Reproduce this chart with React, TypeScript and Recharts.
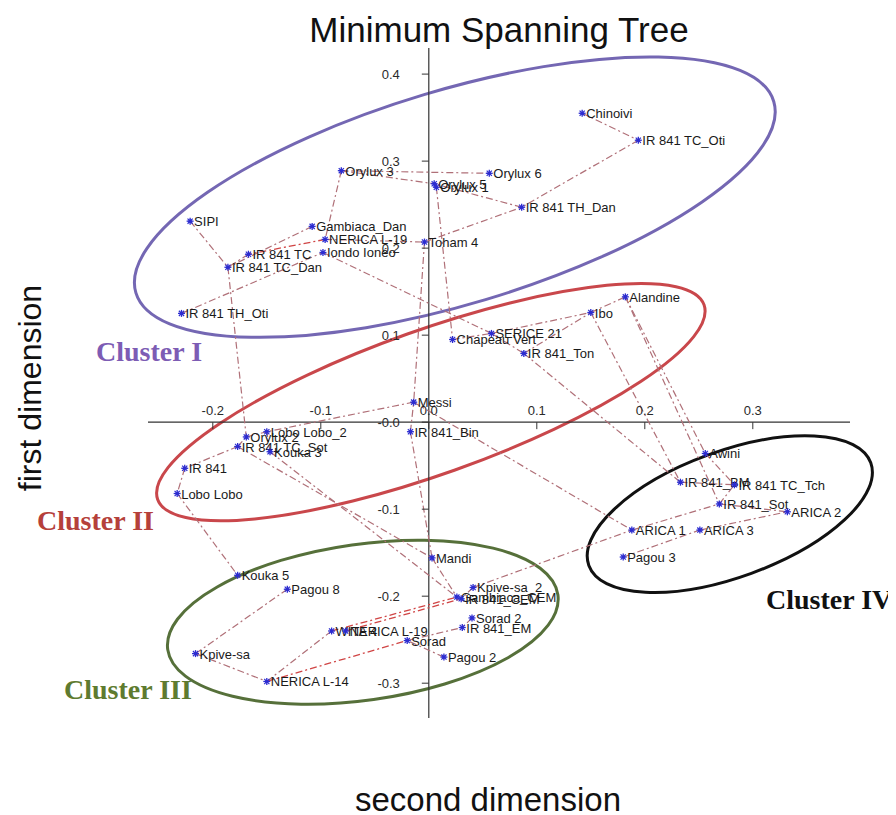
import React from 'react';
import { ScatterChart, Scatter, XAxis, YAxis, ReferenceLine, ReferenceArea, ReferenceDot } from 'recharts';

// ---- data ----
const pointIds = [
  'Chinoivi', 'IR 841 TC_Oti', 'Orylux 6', 'Orylux 5', 'Orylux 1', 'IR 841 TH_Dan', 'Orylux 3', 'SIPI',
  'Gambiaca_Dan', 'NERICA L-19', 'Toham 4', 'IR 841 TC', 'Iondo Ionéo', 'IR 841 TC_Dan', 'IR 841 TH_Oti',
  'Alandine', 'Ibo', 'SERICE 21', 'Chapeau Vert', 'IR 841_Ton', 'Messi', 'IR 841_Bin', 'Orylux 2',
  'Lobo Lobo_2', 'IR 841 TC_Sot', 'Kouka 3', 'IR 841', 'Lobo Lobo', 'Awini', 'IR 841_BM', 'IR 841 TC_Tch',
  'IR 841_Sot', 'ARICA 2', 'ARICA 1', 'ARICA 3', 'Pagou 3', 'Mandi', 'Kouka 5', 'Pagou 8', 'Kpive-sa_2',
  'Gambiaca_CEM', 'IR 841_CEM', 'Sorad 2', 'IR 841_EM', 'WITA 4', 'NERICA L-19 b', 'Sorad', 'Pagou 2',
  'Kpive-sa', 'NERICA L-14',
];
const pointLabels = [
  'Chinoivi', 'IR 841 TC_Oti', 'Orylux 6', 'Orylux 5', 'Orylux 1', 'IR 841 TH_Dan', 'Orylux 3', 'SIPI',
  'Gambiaca_Dan', 'NERICA L-19', 'Toham 4', 'IR 841 TC', 'Iondo Ionéo', 'IR 841 TC_Dan', 'IR 841 TH_Oti',
  'Alandine', 'Ibo', 'SERICE 21', 'Chapeau Vert', 'IR 841_Ton', 'Messi', 'IR 841_Bin', 'Orylux 2',
  'Lobo Lobo_2', 'IR 841 TC_Sot', 'Kouka 3', 'IR 841', 'Lobo Lobo', 'Awini', 'IR 841_BM', 'IR 841 TC_Tch',
  'IR 841_Sot', 'ARICA 2', 'ARICA 1', 'ARICA 3', 'Pagou 3', 'Mandi', 'Kouka 5', 'Pagou 8', 'Kpive-sa_2',
  'Gambiaca_CEM', 'IR 841_CEM', 'Sorad 2', 'IR 841_EM', 'WITA 4', 'NERICA L-19', 'Sorad', 'Pagou 2',
  'Kpive-sa', 'NERICA L-14',
];
// second dimension (horizontal)
const secondDim = [
  0.142, 0.194, 0.056, 0.005, 0.007, 0.086, -0.081, -0.221,
  -0.108, -0.096, -0.004, -0.167, -0.098, -0.186, -0.229,
  0.182, 0.150, 0.058, 0.022, 0.088, -0.014, -0.017, -0.169,
  -0.150, -0.177, -0.147, -0.226, -0.233, 0.256, 0.233, 0.283,
  0.269, 0.332, 0.188, 0.251, 0.180, 0.003, -0.177, -0.131, 0.041,
  0.026, 0.030, 0.040, 0.031, -0.090, -0.077, -0.020, 0.014,
  -0.216, -0.150,
];
// first dimension (vertical)
const firstDim = [
  0.355, 0.324, 0.286, 0.274, 0.270, 0.247, 0.289, 0.231,
  0.225, 0.210, 0.207, 0.193, 0.195, 0.178, 0.125,
  0.144, 0.126, 0.102, 0.095, 0.079, 0.023, -0.011, -0.017,
  -0.011, -0.028, -0.034, -0.053, -0.082, -0.036, -0.069, -0.072,
  -0.094, -0.103, -0.124, -0.124, -0.155, -0.156, -0.176, -0.192, -0.190,
  -0.201, -0.203, -0.225, -0.236, -0.240, -0.240, -0.251, -0.270,
  -0.266, -0.298,
];

const treeEdges: [string, string][] = [
  ['Chinoivi', 'IR 841 TC_Oti'], ['IR 841 TC_Oti', 'IR 841 TH_Dan'], ['IR 841 TH_Dan', 'Orylux 5'],
  ['Toham 4', 'IR 841 TH_Dan'], ['Orylux 3', 'Orylux 6'], ['Orylux 3', 'Orylux 5'], ['Orylux 5', 'Orylux 1'],
  ['Orylux 3', 'NERICA L-19'], ['Gambiaca_Dan', 'IR 841 TC_Dan'], ['NERICA L-19', 'Toham 4'],
  ['SIPI', 'IR 841 TC_Dan'], ['IR 841 TH_Oti', 'Iondo Ionéo'], ['Iondo Ionéo', 'SERICE 21'],
  ['Orylux 1', 'Chapeau Vert'], ['Toham 4', 'Messi'], ['Chapeau Vert', 'SERICE 21'], ['SERICE 21', 'Ibo'],
  ['IR 841_Ton', 'Ibo'], ['Ibo', 'Alandine'], ['SERICE 21', 'IR 841_Ton'], ['Alandine', 'IR 841_Sot'],
  ['Ibo', 'IR 841_BM'], ['IR 841_Ton', 'IR 841_BM'], ['Alandine', 'Awini'], ['Messi', 'Lobo Lobo_2'],
  ['Messi', 'ARICA 1'], ['IR 841_Bin', 'Mandi'], ['IR 841_Bin', 'Messi'], ['Orylux 2', 'Lobo Lobo_2'],
  ['IR 841 TC_Sot', 'Orylux 2'], ['Kouka 3', 'Lobo Lobo_2'], ['IR 841 TC_Sot', 'IR 841'],
  ['IR 841', 'Lobo Lobo'], ['Lobo Lobo', 'Kouka 5'], ['Kouka 3', 'Gambiaca_CEM'], ['IR 841 TC_Sot', 'Mandi'],
  ['IR 841 TC_Dan', 'Orylux 2'], ['Pagou 8', 'Kpive-sa'], ['Kpive-sa', 'NERICA L-14'],
  ['NERICA L-14', 'WITA 4'], ['Sorad', 'IR 841_EM'], ['Mandi', 'Gambiaca_CEM'], ['Kpive-sa_2', 'IR 841_CEM'],
  ['Sorad 2', 'IR 841_EM'], ['Pagou 2', 'Sorad'], ['Kpive-sa_2', 'ARICA 1'], ['ARICA 1', 'IR 841_Sot'],
  ['ARICA 3', 'ARICA 2'], ['IR 841_Sot', 'ARICA 2'], ['IR 841_Sot', 'IR 841 TC_Tch'],
  ['IR 841_BM', 'IR 841 TC_Tch'], ['Awini', 'IR 841 TC_Tch'], ['Pagou 3', 'ARICA 3'],
  ['IR 841 TC', 'IR 841 TC_Dan'],
];
const redEdges: [string, string][] = [
  ['NERICA L-19', 'IR 841 TC'], ['NERICA L-14', 'Sorad'], ['WITA 4', 'Gambiaca_CEM'],
  ['NERICA L-19 b', 'IR 841_CEM'],
];

const xTicks = [-0.2, -0.1, 0, 0.1, 0.2, 0.3];
const xTickLabels = ['-0.2', '-0.1', '0.0', '0.1', '0.2', '0.3'];
const yTicks = [0.4, 0.3, 0.2, 0.1, 0, -0.1, -0.2, -0.3];
const yTickLabels = ['0.4', '0.3', '0.2', '0.1', '-0.0', '-0.1', '-0.2', '-0.3'];

// cluster outlines: centre and half extents in data units, tilt in degrees
const clusterNames = ['Cluster I', 'Cluster II', 'Cluster III', 'Cluster IV'];
const clusterCx = [0.0241, 0.0019, -0.0611, 0.2787];
const clusterCy = [0.2586, 0.023, -0.2299, -0.1057];
const clusterHx = [0.3083, 0.2685, 0.1824, 0.1389];
const clusterHy = [0.123, 0.0828, 0.0897, 0.0724];
const clusterTilt = [-16.7, -19.6, -8, -20];
const clusterColors = ['#7467b3', '#c9474b', '#56703a', '#111111'];
const clusterTextColors = ['#7d5cb4', '#b5403a', '#5e7b2f', '#111111'];

const points = pointIds.map((id, i) => ({ id, label: pointLabels[i], x: secondDim[i], y: firstDim[i] }));
const byId: Record<string, { x: number; y: number }> = {};
points.forEach((p) => { byId[p.id] = p; });

const SANS = '"Liberation Sans", Arial, sans-serif';
const SERIF = '"Liberation Serif", "Times New Roman", serif';

const StarPoint = (props: any) => {
  const { cx, cy, payload } = props;
  if (cx == null || cy == null) return null;
  const c = '#2c2cd0';
  const a = 3.5;
  const d = 2.6;
  return (
    <g>
      <line x1={cx - a} y1={cy} x2={cx + a} y2={cy} stroke={c} strokeWidth={1.3} />
      <line x1={cx} y1={cy - a} x2={cx} y2={cy + a} stroke={c} strokeWidth={1.3} />
      <line x1={cx - d} y1={cy - d} x2={cx + d} y2={cy + d} stroke={c} strokeWidth={1.2} />
      <line x1={cx - d} y1={cy + d} x2={cx + d} y2={cy - d} stroke={c} strokeWidth={1.2} />
      <circle cx={cx} cy={cy} r={1.8} fill={c} />
      <text x={cx + 4} y={cy + 5} fontSize={13} fontFamily={SANS} fill="#1a1a1a">{payload.label}</text>
    </g>
  );
};

const ellipseShape = (color: string, tilt: number) => (p: any) => {
  const w = Math.abs(p.width);
  const h = Math.abs(p.height);
  const x = Math.min(p.x, p.x + p.width);
  const y = Math.min(p.y, p.y + p.height);
  const cx = x + w / 2;
  const cy = y + h / 2;
  return (
    <ellipse cx={cx} cy={cy} rx={w / 2} ry={h / 2} transform={`rotate(${tilt} ${cx} ${cy})`}
      fill="none" stroke={color} strokeWidth={3} />
  );
};

const xTickShape = (label: string) => (p: any) => (
  <g>
    <line x1={p.cx} y1={p.cy} x2={p.cx} y2={p.cy + 7} stroke="#333" strokeWidth={1} />
    <text x={p.cx} y={p.cy - 7} textAnchor="middle" fontSize={13} fontFamily={SANS} fill="#2a2a2a">{label}</text>
  </g>
);
const yTickShape = (label: string) => (p: any) => (
  <g>
    <line x1={p.cx - 7} y1={p.cy} x2={p.cx} y2={p.cy} stroke="#333" strokeWidth={1} />
    <text x={p.cx - 29} y={p.cy + 5} textAnchor="end" fontSize={13} fontFamily={SANS} fill="#2a2a2a">{label}</text>
  </g>
);

const clusterLabelPos = [
  { x: 88, y: 353 },
  { x: 29, y: 522 },
  { x: 56, y: 691 },
  { x: 758, y: 601 },
];

export default function App() {
  const W = 880;
  const H = 800;
  const HH = 807;
  return (
    <div style={{ position: 'relative', width: W, height: HH, background: '#fff' }}>
      <ScatterChart width={W} height={H} margin={{ top: 40, right: 38, bottom: 90, left: 140 }}>
        <XAxis type="number" dataKey="x" domain={[-0.26, 0.39]} allowDataOverflow hide />
        <YAxis type="number" dataKey="y" domain={[-0.34, 0.43]} allowDataOverflow hide />
        <ReferenceLine x={0} stroke="#333" strokeWidth={1.2} />
        <ReferenceLine y={0} stroke="#333" strokeWidth={1.2} />
        {xTicks.map((t, i) => (
          <ReferenceDot key={'xt' + i} x={t} y={0} r={1} shape={xTickShape(xTickLabels[i])} />
        ))}
        {yTicks.map((t, i) => (
          <ReferenceDot key={'yt' + i} x={0} y={t} r={1} shape={yTickShape(yTickLabels[i])} />
        ))}
        {treeEdges.map(([a, b], i) => (
          <ReferenceLine key={'e' + i} ifOverflow="visible"
            segment={[{ x: byId[a].x, y: byId[a].y }, { x: byId[b].x, y: byId[b].y }]}
            stroke="#b07078" strokeWidth={1.2} strokeDasharray="7 3 2 3" />
        ))}
        {redEdges.map(([a, b], i) => (
          <ReferenceLine key={'r' + i} ifOverflow="visible"
            segment={[{ x: byId[a].x, y: byId[a].y }, { x: byId[b].x, y: byId[b].y }]}
            stroke="#d04545" strokeWidth={1.3} strokeDasharray="7 3 2 3" />
        ))}
        {clusterNames.map((n, i) => (
          <ReferenceArea key={n} ifOverflow="visible"
            x1={clusterCx[i] - clusterHx[i]} x2={clusterCx[i] + clusterHx[i]}
            y1={clusterCy[i] - clusterHy[i]} y2={clusterCy[i] + clusterHy[i]}
            shape={ellipseShape(clusterColors[i], clusterTilt[i])} />
        ))}
        <Scatter data={points} shape={StarPoint} isAnimationActive={false} />
      </ScatterChart>
      <svg width={W} height={HH} style={{ position: 'absolute', left: 0, top: 0, pointerEvents: 'none', overflow: 'visible' }}>
        <text x={491} y={34} textAnchor="middle" fontSize={35} fontFamily={SANS} fill="#111">Minimum Spanning Tree</text>
        <text x={480} y={803} textAnchor="middle" fontSize={33} fontFamily={SANS} fill="#111">second dimension</text>
        <text transform="translate(33,380) rotate(-90)" textAnchor="middle" fontSize={32} fontFamily={SANS} fill="#111">first dimension</text>
        {clusterNames.map((n, i) => (
          <text key={n} x={clusterLabelPos[i].x} y={clusterLabelPos[i].y} fontSize={28} fontWeight="bold"
            fontFamily={SERIF} fill={clusterTextColors[i]}>{n}</text>
        ))}
      </svg>
    </div>
  );
}
